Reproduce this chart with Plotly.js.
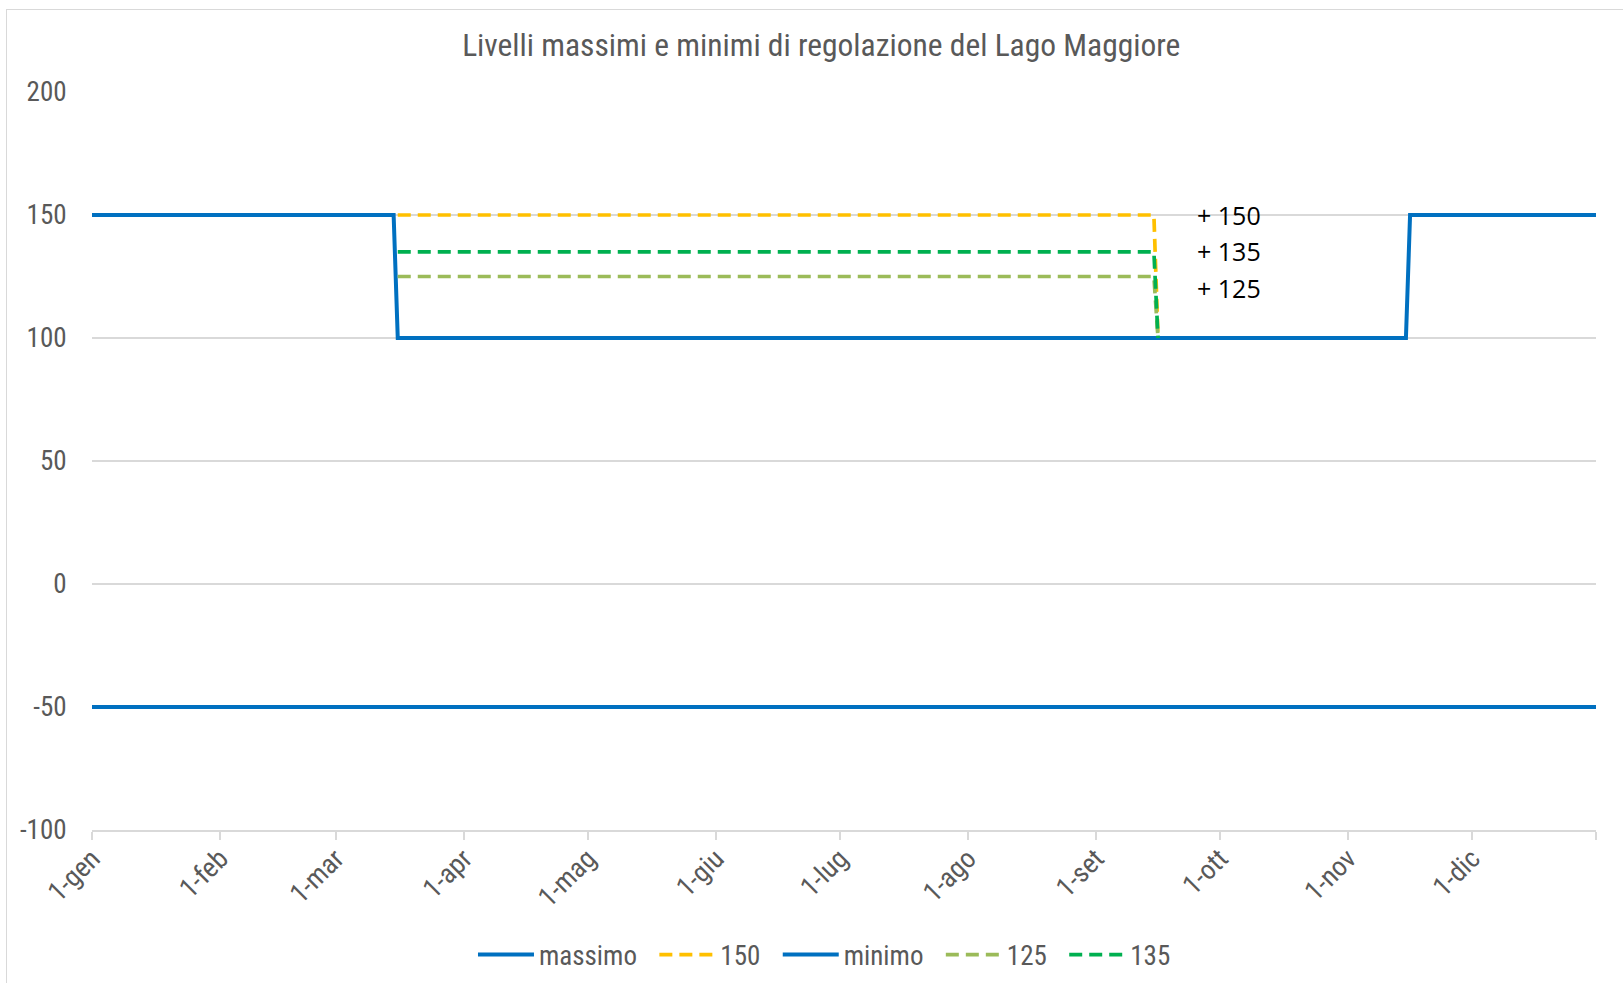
<!DOCTYPE html>
<html>
<head>
<meta charset="utf-8">
<script src="https://cdn.plot.ly/plotly-3.0.1.min.js"></script>
<style>
  html, body { margin: 0; padding: 0; background: #ffffff; overflow: hidden; }
  #wrap { position: relative; width: 1623px; height: 983px; }
  #chart { position: absolute; left: 0; top: 0; width: 1623px; height: 983px; }
  #frame { position: absolute; left: 6px; top: 9px; width: 1700px; height: 1100px;
           border: 1.5px solid #D9D9D9; pointer-events: none; }
</style>
</head>
<body>
<div id="wrap">
  <div id="chart"></div>
  <div id="frame"></div>
</div>
<script>
// ---- data ----
const massimoDates = ['2021-01-01', '2021-03-15', '2021-03-16', '2021-11-15', '2021-11-16', '2021-12-31'];
const massimoValues = [150, 150, 100, 100, 150, 150];

const estateDates = ['2021-03-16', '2021-09-15', '2021-09-16'];
const values150 = [150, 150, 100];
const values135 = [135, 135, 100];
const values125 = [125, 125, 100];

const minimoDates = ['2021-01-01', '2021-12-31'];
const minimoValues = [-50, -50];

const seriesNames = ['massimo', '150', 'minimo', '125', '135'];

const tickDates = ['2021-01-01', '2021-02-01', '2021-03-01', '2021-04-01', '2021-05-01', '2021-06-01',
                   '2021-07-01', '2021-08-01', '2021-09-01', '2021-10-01', '2021-11-01', '2021-12-01', '2021-12-31'];
const tickLabels = ['1-gen', '1-feb', '1-mar', '1-apr', '1-mag', '1-giu',
                    '1-lug', '1-ago', '1-set', '1-ott', '1-nov', '1-dic', ''];

const yTickValues = [-100, -50, 0, 50, 100, 150, 200];
const yTickLabels = ['-100', '-50', '0', '50', '100', '150', '200'];

const noteTexts = ['+ 150', '+ 135', '+ 125'];
const noteLevels = [150.2, 135.2, 120.5];

// ---- styles ----
const BLUE = '#0070C0', YELLOW = '#FFC000', GREEN = '#00B050', OLIVE = '#9BBB59';
const GRID = '#D9D9D9', TXT = '#595959';
const NARROW = '"Liberation Sans Narrow", "Arial Narrow", "Roboto Condensed", "Liberation Sans", Arial, sans-serif';
const DASH = '13px,7px';
const PAD = '\u00A0\u00A0';  // spacing after legend entries

function legendName(i) {
  return seriesNames[i] + (i < seriesNames.length - 1 ? PAD : '');
}

const traces = [
  { x: massimoDates, y: massimoValues, name: legendName(0), mode: 'lines',
    line: { color: BLUE, width: 4 } },
  { x: estateDates, y: values150, name: legendName(1), mode: 'lines',
    line: { color: YELLOW, width: 3.7, dash: DASH } },
  { x: minimoDates, y: minimoValues, name: legendName(2), mode: 'lines',
    line: { color: BLUE, width: 4 } },
  { x: estateDates, y: values125, name: legendName(3), mode: 'lines',
    line: { color: OLIVE, width: 3.7, dash: DASH } },
  { x: estateDates, y: values135, name: legendName(4), mode: 'lines',
    line: { color: GREEN, width: 3.7, dash: DASH } }
];

const annotations = noteTexts.map((t, i) => ({
  text: t, xref: 'paper', x: 0.7334, xanchor: 'left',
  yref: 'y', y: noteLevels[i], yanchor: 'middle',
  showarrow: false,
  font: { family: '"Open Sans", "Noto Sans", sans-serif', size: 25, color: '#000000' }
}));

const layout = {
  width: 1623, height: 983,
  paper_bgcolor: 'rgba(0,0,0,0)', plot_bgcolor: '#ffffff',
  margin: { l: 92, r: 27, t: 92, b: 153 },
  title: {
    text: 'Livelli massimi e minimi di regolazione del Lago Maggiore',
    font: { family: NARROW, size: 31.5, color: TXT },
    xref: 'container', x: 0.506, xanchor: 'center',
    yref: 'container', y: 1 - 45 / 983, yanchor: 'middle'
  },
  xaxis: {
    type: 'date',
    range: ['2021-01-01', '2021-12-31'],
    tickmode: 'array', tickvals: tickDates, ticktext: tickLabels,
    tickangle: -45,
    ticks: 'outside', ticklen: 8, tickwidth: 1.5, tickcolor: GRID,
    ticklabelstandoff: -8,
    showline: true, linecolor: GRID, linewidth: 1.5,
    showgrid: false, zeroline: false,
    tickfont: { family: NARROW, size: 27.5, color: TXT }
  },
  yaxis: {
    range: [-100, 200],
    tickmode: 'array', tickvals: yTickValues, ticktext: yTickLabels,
    ticks: 'outside', ticklen: 19, tickcolor: 'rgba(0,0,0,0)',
    showgrid: true, gridcolor: GRID, gridwidth: 1.5,
    zeroline: false, showline: false,
    tickfont: { family: NARROW, size: 27, color: TXT }
  },
  showlegend: true,
  legend: {
    orientation: 'h',
    xref: 'container', x: 0.508, xanchor: 'center',
    yref: 'container', y: 1 - 955 / 983, yanchor: 'middle',
    font: { family: NARROW, size: 27, color: TXT },
    itemwidth: 56,
    bgcolor: 'rgba(0,0,0,0)'
  },
  annotations: annotations
};

Plotly.newPlot('chart', traces, layout, { displayModeBar: false, staticPlot: true });
</script>
</body>
</html>
